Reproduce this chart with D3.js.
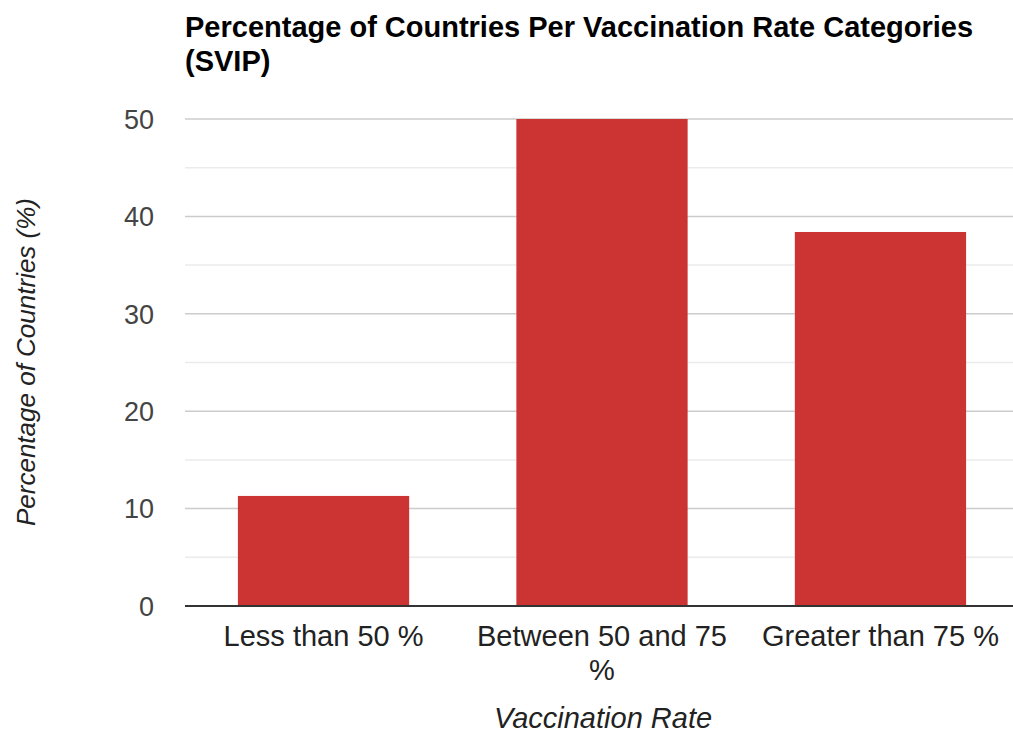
<!DOCTYPE html>
<meta charset="utf-8">
<style>
  body { margin: 0; background: #fff; }
  text { font-family: Arial, "Liberation Sans", sans-serif; }
</style>
<body>
<script src="https://d3js.org/d3.v7.min.js"></script>
<script>

// chart data
var categories = ["Less than 50 %", "Between 50 and 75 %", "Greater than 75 %"];
var values = [11.3, 50, 38.4];
var yTicks = [0, 10, 20, 30, 40, 50];
var yMinorTicks = [5, 15, 25, 35, 45];

var width = 1013, height = 733;
var plot = {left: 185, right: 1019, top: 119, bottom: 606};

var svg = d3.select("body").append("svg")
    .attr("width", width)
    .attr("height", height);

var x = d3.scaleBand()
    .domain(categories)
    .range([plot.left, plot.right])
    .paddingInner(0.385)
    .paddingOuter(0.19);

var y = d3.scaleLinear()
    .domain([0, 50])
    .range([plot.bottom, plot.top]);

// minor gridlines
svg.append("g").selectAll("line")
    .data(yMinorTicks)
  .enter().append("line")
    .attr("x1", plot.left).attr("x2", width)
    .attr("y1", function(d) { return y(d); })
    .attr("y2", function(d) { return y(d); })
    .style("stroke", "#ebebeb")
    .style("stroke-width", 1.5);

// major gridlines
svg.append("g").selectAll("line")
    .data(yTicks.slice(1))
  .enter().append("line")
    .attr("x1", plot.left).attr("x2", width)
    .attr("y1", function(d) { return y(d); })
    .attr("y2", function(d) { return y(d); })
    .style("stroke", "#cccccc")
    .style("stroke-width", 1.5);

// y tick labels
svg.append("g").selectAll("text")
    .data(yTicks)
  .enter().append("text")
    .attr("x", 154)
    .attr("y", function(d) { return y(d); })
    .attr("dy", "0.36em")
    .style("text-anchor", "end")
    .style("font-size", "27px")
    .style("fill", "#444")
    .text(function(d) { return d; });

// bars
svg.append("g").selectAll("rect")
    .data(values)
  .enter().append("rect")
    .attr("x", function(d, i) { return x(categories[i]); })
    .attr("width", x.bandwidth())
    .attr("y", function(d) { return y(d); })
    .attr("height", function(d) { return y(0) - y(d); })
    .style("fill", "#cc3333");

// baseline
svg.append("line")
    .attr("x1", plot.left).attr("x2", width)
    .attr("y1", y(0)).attr("y2", y(0))
    .style("stroke", "#333")
    .style("stroke-width", 2);

// x labels (wrapped like the original)
var xLabelLines = {
  "Less than 50 %": ["Less than 50 %"],
  "Between 50 and 75 %": ["Between 50 and 75", "%"],
  "Greater than 75 %": ["Greater than 75 %"]
};
var xl = svg.append("g").selectAll("text")
    .data(categories)
  .enter().append("text")
    .attr("x", function(d) { return x(d) + x.bandwidth() / 2; })
    .attr("y", 646)
    .style("text-anchor", "middle")
    .style("font-size", "29px")
    .style("fill", "#222");
xl.selectAll("tspan")
    .data(function(d) { return xLabelLines[d]; })
  .enter().append("tspan")
    .attr("x", function() { return this.parentNode.getAttribute("x"); })
    .attr("dy", function(d, i) { return i ? 34 : 0; })
    .text(function(d) { return d; });

// title
var title = svg.append("text")
    .attr("x", 185)
    .attr("y", 37)
    .style("font-size", "29px")
    .style("font-weight", "bold")
    .style("fill", "#000");
title.append("tspan").attr("x", 185).text("Percentage of Countries Per Vaccination Rate Categories");
title.append("tspan").attr("x", 185).attr("dy", 34).text("(SVIP)");

// axis titles
svg.append("text")
    .attr("x", 603)
    .attr("y", 728)
    .style("text-anchor", "middle")
    .style("font-size", "29px")
    .style("font-style", "italic")
    .style("fill", "#222")
    .text("Vaccination Rate");

svg.append("text")
    .attr("transform", "translate(35,362)rotate(-90)")
    .style("text-anchor", "middle")
    .style("font-size", "26px")
    .style("font-style", "italic")
    .style("fill", "#222")
    .text("Percentage of Countries (%)");

</script>
</body>
